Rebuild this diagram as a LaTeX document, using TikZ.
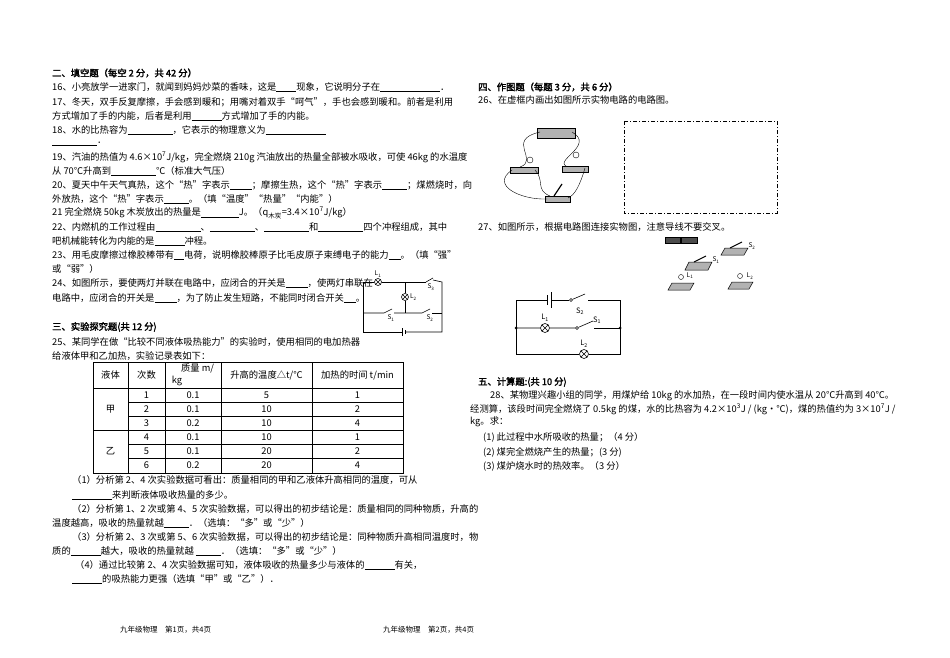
\documentclass[tikz,border=0pt]{standalone}
\usepackage{fontspec}
\setmainfont{Noto Sans CJK SC}
\newfontfamily\headfont{Noto Sans CJK SC}[FakeBold=2]
\usetikzlibrary{positioning}
\newcommand{\fillin}[1]{\rule[-1.5pt]{#1pt}{0.5pt}}

\tikzset{txt/.style =
        {
            anchor=west,
            inner sep=0pt,
            font=\fontsize{9.3}{11}\selectfont
        }
}
\tikzset{head/.style = {txt, font=\fontsize{9.3}{11}\selectfont\headfont}}
\tikzset{small/.style = {inner sep=0pt, font=\fontsize{6.5}{7}\selectfont}}
\tikzset{wire/.style = {line width=0.6pt}}
\tikzset{lamp/.style =
        {
            circle,
            draw,
            line width=0.6pt,
            minimum size=9pt,
            inner sep=0pt,
            path picture={
                    \draw (path picture bounding box.north west) -- (path picture bounding box.south east)
                    (path picture bounding box.north east) -- (path picture bounding box.south west);
                }
        }
}
\tikzset{pivot/.style = {circle, draw, fill=white, minimum size=3pt, inner sep=0pt}}
\tikzset{base/.style = {draw, fill=gray!60, line width=0.5pt}}

\begin{document}
\begin{tikzpicture}[x=1pt, y=-1pt]
    \useasboundingbox (0,0) rectangle (950,658);

    % left column
    \node[head] (h2) at (52,73) {二、填空题（每空 2 分，共 42 分）};
    \node[txt] (q16) at (52,87) {16、小亮放学一进家门，就闻到妈妈炒菜的香味，这是\fillin{20}现象，它说明分子在\fillin{60}．};
    \node[txt] (q17) at (52,102) {17、冬天，双手反复摩擦，手会感到暖和；用嘴对着双手“呵气”，手也会感到暖和。前者是利用};
    \node[txt] (q17b) at (52,116) {方式增加了手的内能，后者是利用\fillin{30}方式增加了手的内能。};
    \node[txt] (q18) at (52,130) {18、水的比热容为\fillin{45}，它表示的物理意义为\fillin{60}};
    \node[txt] (q18b) at (52,144) {\fillin{45}．};
    \node[txt] (q19) at (52,157) {19、汽油的热值为 4.6×10\textsuperscript{7}J/kg，完全燃烧 210g 汽油放出的热量全部被水吸收，可使 46kg 的水温度};
    \node[txt] (q19b) at (52,171) {从 70℃升高到\fillin{45}℃（标准大气压）};
    \node[txt] (q20) at (52,185) {20、夏天中午天气真热，这个“热”字表示\fillin{22}；摩擦生热，这个“热”字表示\fillin{25}；煤燃烧时，向};
    \node[txt] (q20b) at (52,199) {外放热，这个“热”字表示\fillin{25}。（填“温度”“热量”“内能”）};
    \node[txt] (q21) at (52,213) {21 完全燃烧 50kg 木炭放出的热量是\fillin{38}J。（q\textsubscript{木炭}=3.4×10\textsuperscript{7}J/kg）};
    \node[txt] (q22) at (52,227) {22、内燃机的工作过程由\fillin{45}、\fillin{45}、\fillin{45}和\fillin{45}四个冲程组成，其中};
    \node[txt] (q22b) at (52,241) {吧机械能转化为内能的是\fillin{30}冲程。};
    \node[txt] (q23) at (52,255) {23、用毛皮摩擦过橡胶棒带有\fillin{10}电荷，说明橡胶棒原子比毛皮原子束缚电子的能力\fillin{12}。（填“强”};
    \node[txt] (q23b) at (52,269) {或“弱”）};
    \node[txt] (q24) at (52,283) {24、如图所示，要使两灯并联在电路中，应闭合的开关是\fillin{22}，使两灯串联在};
    \node[txt] (q24b) at (52,298) {电路中，应闭合的开关是\fillin{22}，为了防止发生短路，不能同时闭合开关\fillin{12}。};

    % circuit of 24
    \coordinate (a1) at (363,282);
    \coordinate (a2) at (442,282);
    \coordinate (a3) at (363,332);
    \coordinate (a4) at (442,332);
    \node[lamp, minimum size=7pt] (L1a) at (378,282) {};
    \node[lamp, minimum size=7pt] (L2a) at (405,297) {};
    \node[small, above=1pt of L1a] {L\textsubscript{1}};
    \node[small, right=1pt of L2a] {L\textsubscript{2}};
    \draw[wire] (a1) -- (L1a) -- (426,282);
    \draw[wire] (433,280) -- (a2) -- (a4) -- (406,332);
    \draw[wire] (402,332) -- (a3) -- (a1);
    \draw[wire] (426,282) -- (433,278);
    \draw[wire] (405,282) -- (L2a) -- (405,313);
    \draw[wire] (363,313) -- (384,313) -- (392,309);
    \draw[wire] (394,313) -- (422,313) -- (430,309);
    \draw[wire] (432,313) -- (442,313);
    \draw[line width=0.8pt] (402,328) -- (402,336);
    \draw[wire] (405,330) -- (405,334);
    \node[small] at (431,287) {S\textsubscript{3}};
    \node[small] at (391,318) {S\textsubscript{1}};
    \node[small] at (430,318) {S\textsubscript{2}};

    \node[head] (h3) at (52,327) {三、实验探究题(共 12 分)};
    \node[txt] (q25) at (52,342) {25、某同学在做“比较不同液体吸热能力”的实验时，使用相同的电加热器};
    \node[txt] (q25b) at (52,356) {给液体甲和乙加热，实验记录表如下：};

    % table
    \draw[line width=0.4pt] (93,362) rectangle (403,473);
    \foreach \x in {128,165,221,312}
        \draw[line width=0.4pt] (\x,362) -- (\x,473);
    \foreach \y in {388,430}
        \draw[line width=0.4pt] (93,\y) -- (403,\y);
    \foreach \y in {402,416,444,458}
        \draw[line width=0.4pt] (128,\y) -- (403,\y);
    \node[txt, anchor=center] at (110.5,375) {液体};
    \node[txt, anchor=center] at (146.5,375) {次数};
    \node[txt, anchor=center, align=left, font=\fontsize{9.3}{12}\selectfont] at (193,375) {\hspace*{1em}质量 m/\\kg};
    \node[txt, anchor=center] at (266.5,375) {升高的温度△t/℃};
    \node[txt, anchor=center] at (357.5,375) {加热的时间 t/min};
    \node[txt, anchor=center] at (110.5,409) {甲};
    \node[txt, anchor=center] at (110.5,451) {乙};
    \foreach \n / \m / \t / \h [count=\i] in
        {1/0.1/5/1,
            2/0.1/10/2,
            3/0.2/10/4,
            4/0.1/10/1,
            5/0.1/20/2,
            6/0.2/20/4}
    {
        \node[txt, anchor=center] at (146.5,381+14*\i) {\n};
        \node[txt, anchor=center] at (193,381+14*\i) {\m};
        \node[txt, anchor=center] at (266.5,381+14*\i) {\t};
        \node[txt, anchor=center] at (357.5,381+14*\i) {\h};
    }

    \node[txt] (p1) at (72,480) {（1）分析第 2、4 次实验数据可看出：质量相同的甲和乙液体升高相同的温度，可从};
    \node[txt] (p1b) at (72,495) {\fillin{40}来判断液体吸收热量的多少。};
    \node[txt] (p2) at (72,509) {（2）分析第 1、2 次或第 4、5 次实验数据，可以得出的初步结论是：质量相同的同种物质，升高的};
    \node[txt] (p2b) at (52,523) {温度越高，吸收的热量就越\fillin{25}．（选填：“多”或“少”）};
    \node[txt] (p3) at (72,537) {（3）分析第 2、3 次或第 5、6 次实验数据，可以得出的初步结论是：同种物质升高相同温度时，物};
    \node[txt] (p3b) at (52,551) {质的\fillin{30}越大，吸收的热量就越\ \fillin{25}．（选填：“多”或“少”）};
    \node[txt] (p4) at (75,565) {（4）通过比较第 2、4 次实验数据可知，液体吸收的热量多少与液体的\fillin{30}有关，};
    \node[txt] (p4b) at (72,579) {\fillin{30}的吸热能力更强（选填“甲”或“乙”）．};

    % right column
    \node[head] (h4) at (478,87) {四、作图题（每题 3 分，共 6 分）};
    \node[txt] (q26) at (478,100) {26、在虚框内画出如图所示实物电路的电路图。};

    % picture of 26
    \draw[base] (537,128) rectangle (575,138);
    \draw[base] (510,167) rectangle (538,173);
    \draw[base] (562,166) rectangle (588,172);
    \draw[base] (545,196) rectangle (570,202);
    \draw[fill=white] (530,160) circle (3pt);
    \draw[fill=white] (576,155) circle (3pt);
    \draw[line width=1.2pt] (554,196) -- (562,184);
    \draw[line width=0.4pt] (540,132) .. controls (505,140) and (540,160) .. (520,167)
        (572,132) .. controls (595,145) and (555,160) .. (566,166)
        (512,170) .. controls (490,185) and (520,200) .. (547,199)
        (585,168) .. controls (580,185) and (575,195) .. (568,198)
        (535,170) .. controls (545,180) and (535,190) .. (550,196);
    \draw[dash pattern=on 4pt off 2pt on 1pt off 2pt, line width=0.6pt] (624,121) rectangle (777,213);

    \node[txt] (q27) at (478,227) {27、如图所示，根据电路图连接实物图，注意导线不要交叉。};

    % parts of 27
    \draw[base, fill=black!70] (665,237) rectangle (680,243);
    \draw[base, fill=black!70] (681,237) rectangle (697,243);
    \draw[base] (725,248) -- (748,248) -- (744,255) -- (721,255) -- cycle;
    \draw[line width=1pt] (730,248) -- (742,242);
    \node[small] at (752,246) {S\textsubscript{2}};
    \draw[base] (689,262) -- (712,262) -- (708,270) -- (685,270) -- cycle;
    \draw[line width=1pt] (694,262) -- (706,256);
    \node[small] at (716,260) {S\textsubscript{1}};
    \draw[base] (672,283) -- (694,283) -- (690,290) -- (668,290) -- cycle;
    \draw (681,277) circle (2.5pt);
    \node[small] at (690,276) {L\textsubscript{1}};
    \draw[base] (732,282) -- (753,282) -- (749,289) -- (728,289) -- cycle;
    \draw (740,276) circle (2.5pt);
    \node[small] at (750,276) {L\textsubscript{2}};

    % circuit of 27
    \coordinate (c1) at (516,300);
    \coordinate (c2) at (620,300);
    \coordinate (c3) at (516,354);
    \coordinate (c4) at (620,354);
    \coordinate (jl) at (516,328);
    \coordinate (jr) at (620,328);
    \node[pivot] (s2p) at (571,300) {};
    \node[pivot] (s1p) at (577,328) {};
    \node[lamp] (L1) at (545,328) {};
    \node[lamp] (L2) at (584,354) {};
    \draw[wire] (c1) -- (547,300);
    \draw[line width=0.6pt] (547,295) -- (547,305);
    \draw[line width=1pt] (551,292) -- (551,308);
    \draw[wire] (551,300) -- (s2p);
    \draw[wire] (s2p) -- (585,294);
    \draw[wire] (588,300) -- (c2) -- (c4) -- (L2) -- (c3) -- (c1);
    \draw[wire] (jl) -- (L1) -- (s1p) -- (593,321);
    \draw[wire] (594,328) -- (jr);
    \fill (jl) circle (1.5pt) (jr) circle (1.5pt);
    \node[small, font=\fontsize{7.5}{8}\selectfont] at (580,311) {S\textsubscript{2}};
    \node[small, font=\fontsize{7.5}{8}\selectfont] at (597,320) {S\textsubscript{1}};
    \node[small, font=\fontsize{7.5}{8}\selectfont, above=2pt of L1] {L\textsubscript{1}};
    \node[small, font=\fontsize{7.5}{8}\selectfont, above=2pt of L2] {L\textsubscript{2}};

    \node[head] (h5) at (478,382) {五、计算题:(共 10 分)};
    \node[txt] (q28) at (490,396) {28、某物理兴趣小组的同学，用煤炉给 10kg 的水加热，在一段时间内使水温从 20℃升高到 40℃。};
    \node[txt] (q28b) at (470,409) {经测算，该段时间完全燃烧了 0.5kg 的煤，水的比热容为 4.2×10\textsuperscript{3}J / (kg·℃)，煤的热值约为 3×10\textsuperscript{7}J /};
    \node[txt] (q28c) at (470,422) {kg。求：};
    \node[txt] (r1) at (483,437) {(1) 此过程中水所吸收的热量；（4 分）};
    \node[txt] (r2) at (483,452) {(2) 煤完全燃烧产生的热量；(3 分)};
    \node[txt] (r3) at (483,466) {(3) 煤炉烧水时的热效率。（3 分）};

    % footers
    \node[txt, font=\fontsize{7.5}{8}\selectfont] (f1) at (120,630) {九年级物理\quad 第1页，共4页};
    \node[txt, font=\fontsize{7.5}{8}\selectfont] (f2) at (383,630) {九年级物理\quad 第2页，共4页};
\end{tikzpicture}
\end{document}
